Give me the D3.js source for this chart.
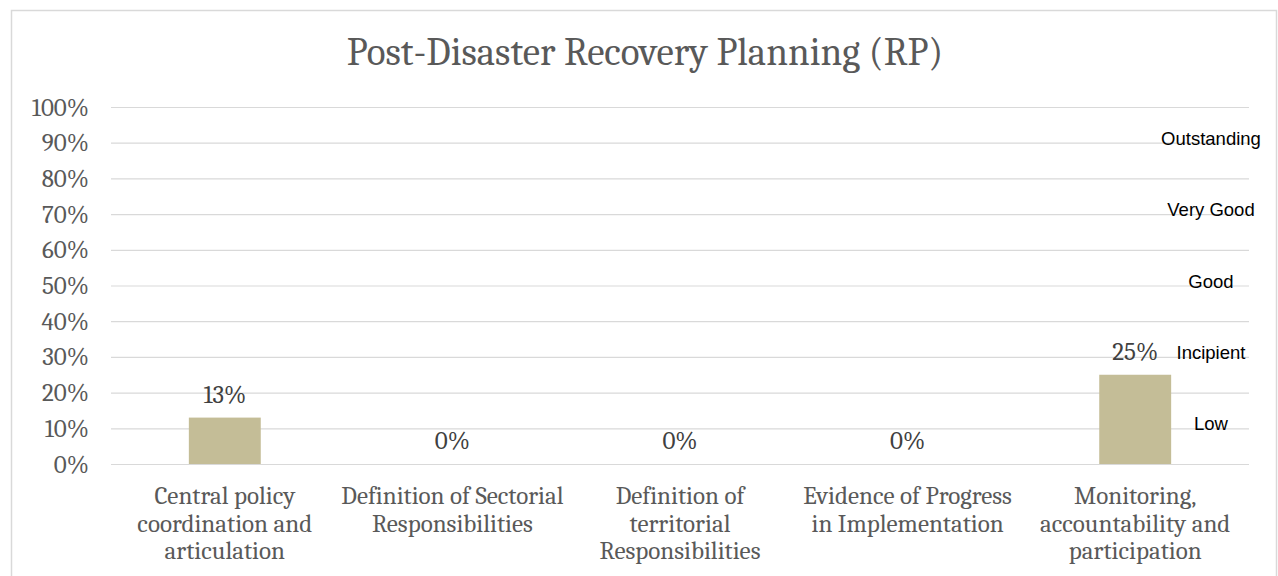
<!DOCTYPE html>
<html>
<head>
<meta charset="utf-8">
<script src="https://cdn.jsdelivr.net/npm/d3@7"></script>
<style>
  html, body { margin: 0; padding: 0; background: #fff; }
  svg { display: block; }
</style>
</head>
<body>
<svg id="chart" width="1278" height="576"></svg>
<script>
// Recovery planning scores per component
const categories = [
  "Central policy coordination and articulation",
  "Definition of Sectorial Responsibilities",
  "Definition of territorial Responsibilities",
  "Evidence of Progress in Implementation",
  "Monitoring, accountability and participation"
];
const categoryLines = [
  ["Central policy", "coordination and", "articulation"],
  ["Definition of Sectorial", "Responsibilities"],
  ["Definition of", "territorial", "Responsibilities"],
  ["Evidence of Progress", "in Implementation"],
  ["Monitoring,", "accountability and", "participation"]
];
const values = [0.13, 0, 0, 0, 0.25];
const yTicks = [0, 0.1, 0.2, 0.3, 0.4, 0.5, 0.6, 0.7, 0.8, 0.9, 1.0];
// Rating bands shown along the right edge
const bandNames = ["Outstanding", "Very Good", "Good", "Incipient", "Low"];
const bandLevels = [0.9, 0.7, 0.5, 0.3, 0.1];

const W = 1278, H = 576;
const margin = { left: 111, right: 29, top: 107, bottom: 112 };
const svg = d3.select("#chart");
const serif = "Cambria, 'Liberation Serif', 'DejaVu Serif', serif";
const grey = "#595959";

// chart frame
svg.append("rect")
  .attr("x", 11.5).attr("y", 10.5)
  .attr("width", W - 13).attr("height", H)
  .attr("fill", "#fff").attr("stroke", "#d9d9d9").attr("stroke-width", 1.5);

const x = d3.scaleBand()
  .domain(categories)
  .range([margin.left, W - margin.right])
  .paddingInner(0.684).paddingOuter(0.342);

const y = d3.scaleLinear().domain([0, 1]).range([H - margin.bottom, margin.top]);

// title
svg.append("text")
  .attr("x", 645)
  .attr("y", 65)
  .attr("text-anchor", "middle")
  .attr("font-family", serif)
  .attr("font-size", 39)
  .attr("fill", grey)
  .text("Post-Disaster Recovery Planning (RP)");

// gridlines + y labels
const yAxis = d3.axisLeft(y)
  .tickValues(yTicks)
  .tickFormat(d3.format(".0%"))
  .tickSize(-(W - margin.right - margin.left))
  .tickPadding(22);

const gy = svg.append("g")
  .attr("transform", `translate(${margin.left},0)`)
  .call(yAxis);
gy.select(".domain").remove();
gy.selectAll(".tick line").attr("stroke", "#d9d9d9").attr("stroke-width", 1.2);
gy.selectAll(".tick text")
  .attr("font-family", serif)
  .attr("font-size", 25)
  .attr("fill", grey);

// bars
svg.append("g").selectAll("rect")
  .data(values)
  .join("rect")
  .attr("x", (d, i) => x(categories[i]))
  .attr("width", x.bandwidth())
  .attr("y", d => y(d))
  .attr("height", d => y(0) - y(d))
  .attr("fill", "#c4bd97");

// value labels
svg.append("g").selectAll("text")
  .data(values)
  .join("text")
  .attr("x", (d, i) => x(categories[i]) + x.bandwidth() / 2)
  .attr("y", d => y(d) - 15)
  .attr("text-anchor", "middle")
  .attr("font-family", serif)
  .attr("font-size", 25)
  .attr("fill", "#404040")
  .text(d => d3.format(".0%")(d));

// category labels
const xl = svg.append("g").selectAll("text")
  .data(categoryLines)
  .join("text")
  .attr("text-anchor", "middle")
  .attr("font-family", serif)
  .attr("font-size", 25)
  .attr("fill", grey)
  .attr("transform", (d, i) => `translate(${x(categories[i]) + x.bandwidth() / 2},${y(0) + 40})`);
xl.selectAll("tspan")
  .data(d => d)
  .join("tspan")
  .attr("x", 0)
  .attr("dy", (d, j) => j === 0 ? 0 : 27.5)
  .text(d => d);

// rating band names
svg.append("g").selectAll("text")
  .data(bandNames)
  .join("text")
  .attr("x", W - margin.right - 38)
  .attr("y", (d, i) => y(bandLevels[i]) + 2)
  .attr("text-anchor", "middle")
  .attr("font-family", "'Liberation Sans', Arial, sans-serif")
  .attr("font-size", 18.5)
  .attr("fill", "#000")
  .text(d => d);
</script>
</body>
</html>
